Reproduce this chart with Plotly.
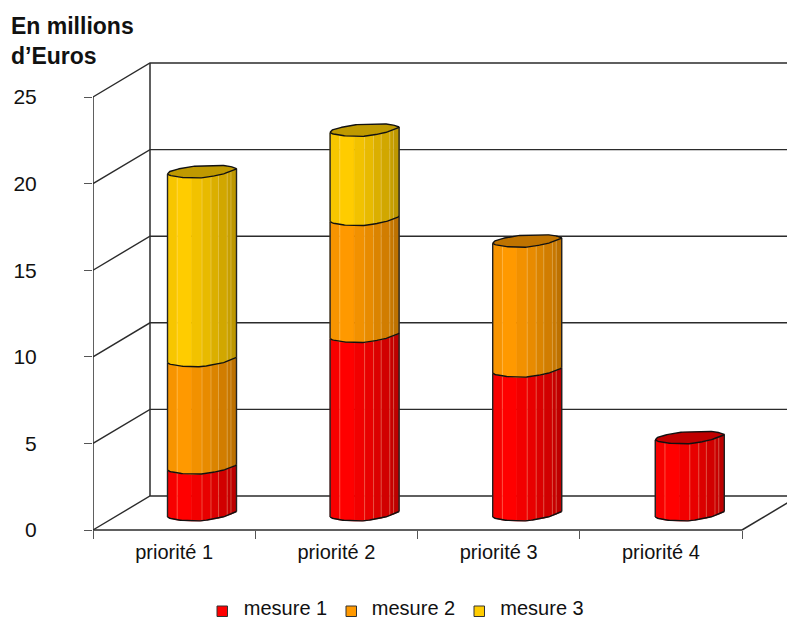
import plotly.graph_objects as go
import numpy as np

# Chart data (millions of euros)
categories = ["priorité 1", "priorité 2", "priorité 3", "priorité 4"]
mesure_1 = [2.7, 10.3, 8.3, 4.45]
mesure_2 = [6.2, 6.75, 7.5, 0]
mesure_3 = [10.9, 5.15, 0, 0]
series_names = ["mesure 1", "mesure 2", "mesure 3"]
y_ticks = [0, 5, 10, 15, 20, 25]

# Appearance
series_rgb = [(255, 0, 0), (255, 153, 0), (255, 204, 0)]
FONT = "Liberation Sans, Arial, sans-serif"
WALL = "#2b2b2b"
W, H = 787, 618
ML, MB = 93, 88
PLOT_W, PLOT_H = W - ML, H - MB
PX_X = 162.25   # pixels per category
PX_Y = 17.32    # pixels per value unit

# Oblique projection of the box: how far the back wall sits from the front plane
DEPTH_X = 57 / PX_X
DEPTH_Y = 34 / PX_Y
Y_TOP = 25
X_END = PLOT_W / PX_X

# Cylinder placement within a category, and its depth offset above the floor edge
BAR_X = 74.5 / PX_X
BAR_STEP = 162.6 / PX_X
BAR_W = 69 / PX_X
BAR_BASE = 13 / PX_Y

# Outline of the tilted ellipse, offset in pixels relative to the left edge
t_knots = [0, .02, .14, .35, .5, .77, .97, 1]
front_px = [0, 1, 3, 4, 3.8, .8, -4, -5.5]
t_back = [0, .03, .23, .47, .85, .97, 1]
back_px = [0, -2.5, -6.5, -8.5, -8.5, -6.5, -5.5]

# Shading bands across the cylinder
band_edges = [0, .14, .35, .5, .63, .74, .865, .92, 1]
band_shade = [.97, 1, .95, .91, .86, .82, .78, .74]
seams = [.14, .5, .63, .74, .865, .92]

# Legend layout, in page pixels
key_left = [217, 346, 474]
label_center = [285.5, 413.5, 542]
KEY_TOP, KEY_SIZE, LEGEND_MID = 606, 10.5, 609.5


def front(t):
    return -np.interp(t, t_knots, front_px) / PX_Y


def back(t):
    return -np.interp(t, t_back, back_px) / PX_Y


def shade(rgb, f):
    return "rgb(%d,%d,%d)" % tuple(round(c * f) for c in rgb)


def data_x(px):
    return (px - ML) / PX_X


def data_y(py):
    return (PLOT_H - py) / PX_Y


fig = go.Figure()


def line(xs, ys, color=WALL, width=1.5):
    fig.add_trace(go.Scatter(x=xs, y=ys, mode="lines", showlegend=False, hoverinfo="skip",
                             line=dict(color=color, width=width)))


# Back wall and side wall
for v in y_ticks:
    line([0, DEPTH_X, X_END], [v, v + DEPTH_Y, v + DEPTH_Y], width=1.4)
line([0, 0], [0, Y_TOP])
line([DEPTH_X, DEPTH_X], [DEPTH_Y, Y_TOP + DEPTH_Y])
# Front floor edge and right floor edge
line([0, 4], [0, 0])
line([4, 4 + DEPTH_X], [0, DEPTH_Y])


def draw_segment(x0, v0, v1, rgb, is_top):
    for i, f in enumerate(band_shade):
        t = np.linspace(band_edges[i], band_edges[i + 1], 8)
        xs = x0 + t * BAR_W
        px = np.concatenate([xs, xs[::-1], xs[:1]])
        py = np.concatenate([v0 + front(t), (v1 + front(t))[::-1], [v0 + front(t[0])]])
        col = shade(rgb, f)
        fig.add_trace(go.Scatter(x=px, y=py, mode="lines", fill="toself", fillcolor=col,
                                 line=dict(color=col, width=.6), showlegend=False, hoverinfo="skip"))
    # Pale seams between facets
    sx, sy = [], []
    for s in seams:
        sx += [x0 + s * BAR_W, x0 + s * BAR_W, None]
        sy += [v0 + front(s), v1 + front(s), None]
    line(sx, sy, color="rgba(255,235,190,0.4)", width=.8)
    # Side edges and lower rim
    t = np.linspace(0, 1, 60)
    xs = x0 + t * BAR_W
    line(list(xs), list(v0 + front(t)), color="#111", width=1.4)
    line([x0, x0], [v0, v1], color="#222", width=1.4)
    line([x0 + BAR_W, x0 + BAR_W], [v0 + front(1), v1 + front(1)], color="#222", width=1.4)
    if is_top:
        cx = np.concatenate([xs, xs[::-1]])
        cy = np.concatenate([v1 + front(t), (v1 + back(t))[::-1]])
        fig.add_trace(go.Scatter(x=cx, y=cy, mode="lines", fill="toself",
                                 fillcolor=shade(rgb, .75),
                                 line=dict(color="#111", width=1.4),
                                 showlegend=False, hoverinfo="skip"))


stacks = list(zip(mesure_1, mesure_2, mesure_3))
for c, values in enumerate(stacks):
    x0 = BAR_X + c * BAR_STEP
    present = [(v, series_rgb[k]) for k, v in enumerate(values) if v > 0]
    level = BAR_BASE
    for j, (v, rgb) in enumerate(present):
        draw_segment(x0, level, level + v, rgb, j == len(present) - 1)
        level += v

# Legend keys and labels, placed along the bottom of the page
legend_shapes = []
for name, rgb, left, mid in zip(series_names, series_rgb, key_left, label_center):
    legend_shapes.append(dict(type="rect", xref="x", yref="y",
                              x0=data_x(left), x1=data_x(left + KEY_SIZE),
                              y0=data_y(KEY_TOP + KEY_SIZE), y1=data_y(KEY_TOP),
                              fillcolor=shade(rgb, 1), line=dict(color="#333", width=1)))
    fig.add_trace(go.Scatter(x=[data_x(mid)], y=[data_y(LEGEND_MID)],
                             mode="text", text=[name], textposition="middle center",
                             cliponaxis=False, showlegend=False, hoverinfo="skip",
                             textfont=dict(size=20, family=FONT, color="#111")))

fig.update_layout(
    width=W, height=H, autosize=False,
    margin=dict(l=ML, r=0, t=0, b=0),
    plot_bgcolor="white", paper_bgcolor="white",
    font=dict(family=FONT, color="#111"),
    showlegend=False,
    shapes=legend_shapes,
    title=dict(text="<b>En millions<br>d’Euros</b>", x=11 / W, xanchor="left",
               xref="container", y=1 - 34 / H, yanchor="top", pad=dict(t=0),
               font=dict(size=23, family=FONT, color="#111")),
    xaxis=dict(range=[0, X_END], anchor="free", position=MB / H,
               tickmode="array", tickvals=[.5, 1.5, 2.5, 3.5], ticktext=categories,
               ticks="", showgrid=False, zeroline=False, showline=False,
               tickfont=dict(size=20, family=FONT, color="#111"), ticklabelstandoff=8,
               minor=dict(tickmode="array", tickvals=[0, 1, 2, 3, 4], ticks="outside",
                          ticklen=8, tickwidth=1.3, tickcolor="#555", showgrid=False)),
    yaxis=dict(range=[-MB / PX_Y, PLOT_H / PX_Y], tickmode="array", tickvals=y_ticks, ticks="outside",
               ticklen=8, tickwidth=1.3, tickcolor="#555", showgrid=False, zeroline=False,
               showline=False, tickfont=dict(size=21, family=FONT, color="#111"),
               ticklabelstandoff=43),
)

fig.write_html("out.html")
